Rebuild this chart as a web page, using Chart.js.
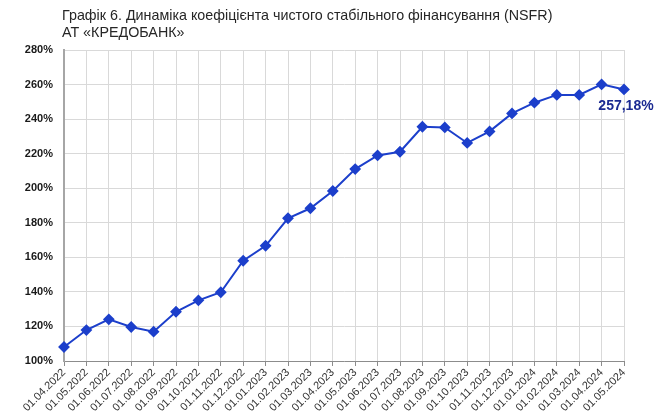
<!DOCTYPE html>
<html>
<head>
<meta charset="utf-8">
<script src="https://cdn.jsdelivr.net/npm/chart.js@4.4.1/dist/chart.umd.min.js"></script>
<style>
    html, body { margin: 0; padding: 0; background: #fff; }
    #wrap { position: relative; width: 671px; height: 416px; }
    #title {
        position: absolute; left: 62px; top: 7px;
        font-family: 'Liberation Sans', sans-serif;
        font-size: 14.3px; line-height: 17px; color: #262626;
    }
</style>
</head>
<body>
<div id="wrap">
    <canvas id="ChartNSFR" width="671" height="416"></canvas>
    <div id="title">Графік 6. Динаміка коефіцієнта чистого стабільного фінансування (NSFR)<br>АТ «КРЕДОБАНК»</div>
</div>
<script>
const dates = ['01.04.2022', '01.05.2022', '01.06.2022', '01.07.2022', '01.08.2022', '01.09.2022',
    '01.10.2022', '01.11.2022', '01.12.2022', '01.01.2023', '01.02.2023', '01.03.2023', '01.04.2023',
    '01.05.2023', '01.06.2023', '01.07.2023', '01.08.2023', '01.09.2023', '01.10.2023', '01.11.2023',
    '01.12.2023', '01.01.2024', '01.02.2024', '01.03.2024', '01.04.2024', '01.05.2024'];
const nsfr = [108.1, 117.9, 124.1, 119.7, 117.0, 128.5, 135.1, 139.8, 158.0, 166.7, 182.6, 188.4, 198.4,
    211.1, 219.0, 221.1, 235.6, 235.2, 226.2, 232.9, 243.3, 249.5, 254.0, 254.0, 260.1, 257.18];
const lastLabel = '257,18%';

const lineColor = '#1c3fcb';

const lastValuePlugin = {
    id: 'lastValue',
    afterDatasetsDraw(chart) {
        const meta = chart.getDatasetMeta(0);
        const pt = meta.data[meta.data.length - 1];
        const ctx = chart.ctx;
        ctx.save();
        ctx.font = 'bold 14px "Liberation Sans", sans-serif';
        ctx.fillStyle = '#1b2a92';
        ctx.textAlign = 'center';
        ctx.textBaseline = 'middle';
        ctx.fillText(lastLabel, pt.x + 2, pt.y + 17);
        ctx.restore();
    }
};

const ctx = document.getElementById('ChartNSFR').getContext('2d');
const chartNSFR = new Chart(ctx, {
    type: 'line',
    data: {
        labels: dates,
        datasets: [{
            label: 'NSFR',
            data: nsfr,
            borderColor: lineColor,
            backgroundColor: lineColor,
            borderWidth: 2,
            pointStyle: 'rectRot',
            pointRadius: 4.5,
            pointBackgroundColor: lineColor,
            pointBorderColor: lineColor,
            tension: 0
        }]
    },
    options: {
        responsive: false,
        animation: false,
        layout: {
            padding: { top: 50, right: 47, left: 0, bottom: 0 }
        },
        plugins: {
            legend: { display: false },
            tooltip: { enabled: false }
        },
        scales: {
            x: {
                offset: false,
                afterFit: (scale) => { scale.height = 55; },
                grid: {
                    color: '#d9d9d9',
                    tickColor: '#8c8c8c',
                    tickLength: 5,
                    drawTicks: true
                },
                border: { color: '#8c8c8c', width: 1 },
                ticks: {
                    autoSkip: false,
                    maxRotation: 45,
                    minRotation: 45,
                    padding: 0,
                    color: '#333333',
                    font: { family: "'Liberation Sans', sans-serif", size: 11 }
                }
            },
            y: {
                min: 100,
                max: 280,
                afterFit: (scale) => { scale.width = 64; },
                grid: {
                    color: '#d9d9d9',
                    drawTicks: false
                },
                border: { color: '#a6a6a6', width: 2 },
                ticks: {
                    stepSize: 20,
                    padding: 11,
                    color: '#1a1a1a',
                    font: { family: "'Liberation Sans', sans-serif", size: 11, weight: 'bold' },
                    callback: (v) => v + '%'
                }
            }
        }
    },
    plugins: [lastValuePlugin]
});
</script>
</body>
</html>
